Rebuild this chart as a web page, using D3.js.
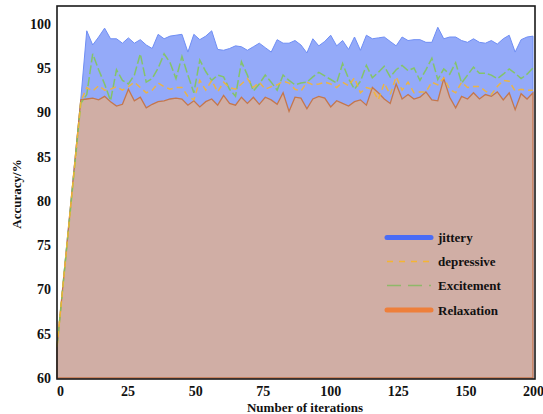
<!DOCTYPE html>
<html><head><meta charset="utf-8">
<script src="https://cdn.jsdelivr.net/npm/d3@7"></script>
<style>body{margin:0;background:#fff}svg{display:block}</style>
</head><body>
<svg id="c" width="543" height="414"></svg>
<script>
const iterations = [0].concat(d3.range(10, 200.1, 2.5));
const jittery = [63.5,91.5,99.2,97.6,98.5,99.5,98.3,98.3,97.8,98.4,97.8,98.2,97.6,97.2,98.8,98.3,98.6,98.7,98.8,96.8,98.8,98.2,98.6,99.2,97.1,97.0,97.2,97.5,97.4,97.0,97.4,97.8,97.3,96.8,98.2,97.8,97.8,98.1,97.6,96.7,98.3,97.5,98.0,98.7,97.5,98.1,97.1,98.5,97.0,98.7,98.3,98.4,98.5,98.0,97.5,98.5,98.1,98.2,98.2,97.9,97.9,99.6,98.3,98.5,98.5,98.1,97.9,98.3,97.9,97.8,98.1,97.7,98.3,98.7,96.8,98.2,98.5,98.6];
const depressive = [63.5,91.2,92.8,92.4,93.0,92.5,92.6,92.9,92.5,92.9,93.4,92.8,92.2,92.5,93.3,92.9,92.6,92.8,92.8,91.8,91.4,93.6,92.5,93.6,92.3,93.4,92.8,92.6,93.2,93.8,92.8,93.4,92.6,92.9,93.1,93.5,93.3,92.6,92.4,93.4,93.1,93.2,93.4,93.2,92.8,93.4,93.0,93.9,92.2,92.8,92.6,91.4,93.3,92.0,94.0,92.5,93.4,92.2,92.3,92.3,93.4,93.1,93.9,92.6,92.2,93.4,92.8,92.9,92.9,92.4,92.0,92.9,93.6,93.5,92.4,92.6,92.5,92.5];
const excitement = [63.5,91.0,92.0,96.6,94.8,93.2,91.3,94.8,93.6,93.2,94.2,96.6,93.4,93.8,95.0,96.6,95.6,93.8,96.3,94.2,92.2,95.9,94.6,93.6,94.2,94.0,92.6,91.8,95.7,94.2,92.4,93.2,94.2,93.4,92.5,94.2,93.6,93.1,93.3,93.4,94.0,94.5,94.1,93.7,93.3,95.5,93.8,92.6,93.5,95.3,93.9,94.5,95.2,94.0,94.8,95.3,94.7,95.0,93.6,94.8,96.1,93.7,94.9,94.3,95.6,93.3,94.2,95.1,94.4,94.4,94.2,93.8,94.3,94.9,94.4,93.8,94.3,95.0];
const relaxation = [63.5,91.4,91.5,91.6,91.4,91.8,91.2,90.7,90.9,92.6,91.3,91.7,90.5,90.9,91.2,91.3,91.5,91.6,91.5,90.8,91.3,90.6,91.2,91.5,90.8,91.9,91.0,90.8,91.7,91.0,91.7,90.9,91.7,91.4,90.9,92.2,90.1,91.7,91.6,90.4,91.5,91.8,91.6,90.6,91.3,91.0,90.7,91.2,91.4,90.8,92.8,92.2,91.5,91.0,93.2,91.5,92.0,91.5,91.7,92.3,91.4,91.3,93.8,91.7,90.5,91.8,91.5,92.2,91.5,92.0,91.8,92.3,91.4,92.2,90.3,92.1,91.5,92.2];
const yTicks = [60,65,70,75,80,85,90,95,100];
const xTickLabels = ["0","25","50","75","100","125","150","200"];
const seriesNames = ["jittery","depressive","Excitement","Relaxation"];

const svg = d3.select("#c");
const L = 57, R = 535, T = 6, B = 379;
const x = d3.scaleLinear().domain([0, 200]).range([L, 533]);
const y = d3.scaleLinear().domain([60, 102]).range([378, T]);
const xLab = d3.scalePoint().domain(xTickLabels).range([60, 533]);
const font = "'Liberation Serif','Times New Roman',serif";

const pts = arr => arr.map((v, i) => [iterations[i], v]);
const area = d3.area().x(d => x(d[0])).y0(y(60)).y1(d => y(d[1]));
const line = d3.line().x(d => x(d[0])).y(d => y(d[1]));

// jittery area
svg.append("path").attr("d", area(pts(jittery)) )
  .attr("fill", "#5a7cf6").attr("fill-opacity", 0.65)
  .attr("stroke", "#6f8ef4").attr("stroke-width", 1);
// relaxation area
svg.append("path").attr("d", area(pts(relaxation)))
  .attr("fill", "#d0aea5")
  .attr("stroke", "#c5774c").attr("stroke-width", 1.3);
// excitement dashed
svg.append("path").attr("d", line(pts(excitement)))
  .attr("fill", "none").attr("stroke", "#82c75a").attr("stroke-width", 1.5)
  .attr("stroke-dasharray", "9,3").attr("opacity", 0.9);
// depressive dashed
svg.append("path").attr("d", line(pts(depressive)))
  .attr("fill", "none").attr("stroke", "#f4b533").attr("stroke-width", 1.5)
  .attr("stroke-dasharray", "6,4").attr("opacity", 0.9);

// frame
svg.append("rect").attr("x", L).attr("y", T).attr("width", R - L).attr("height", B - T)
  .attr("fill", "none").attr("stroke", "#1a1a1a").attr("stroke-width", 1.6);

// y axis
const yAxis = d3.axisLeft(y).tickValues(yTicks).tickSize(0).tickPadding(6);
const gy = svg.append("g").attr("transform", `translate(${L},0)`).call(yAxis);
gy.select(".domain").remove();
gy.selectAll("text").attr("font-family", font).attr("font-size", 14).attr("font-weight", "bold").attr("fill", "#111");

// x axis
const xAxis = d3.axisBottom(xLab).tickSize(0).tickPadding(7);
const gx = svg.append("g").attr("transform", `translate(0,${B})`).call(xAxis);
gx.select(".domain").remove();
gx.selectAll("text").attr("font-family", font).attr("font-size", 14).attr("font-weight", "bold").attr("fill", "#111");

// titles
svg.append("text").attr("x", 305).attr("y", 412).attr("text-anchor", "middle")
  .attr("font-family", font).attr("font-size", 13).attr("font-weight", "bold").attr("fill", "#111")
  .text("Number of iterations");
svg.append("text").attr("transform", "translate(21,194) rotate(-90)").attr("text-anchor", "middle")
  .attr("font-family", font).attr("font-size", 13).attr("font-weight", "bold").attr("fill", "#111")
  .text("Accuracy/%");

// legend
const leg = [
  {name: seriesNames[0], y: 237.5, color: "#4a6cf5", w: 5, dash: null, cap: "round"},
  {name: seriesNames[1], y: 261.5, color: "#f4b533", w: 1.5, dash: "6,6", cap: "butt"},
  {name: seriesNames[2], y: 285.5, color: "#8fb86a", w: 1.5, dash: "14,7", cap: "butt"},
  {name: seriesNames[3], y: 310, color: "#ee7f3b", w: 5, dash: null, cap: "round"}
];
const lg = svg.append("g");
leg.forEach(d => {
  lg.append("line").attr("x1", 387).attr("x2", 431).attr("y1", d.y).attr("y2", d.y)
    .attr("stroke", d.color).attr("stroke-width", d.w).attr("stroke-linecap", d.cap)
    .attr("stroke-dasharray", d.dash);
  lg.append("text").attr("x", 438).attr("y", d.y + 4.5)
    .attr("font-family", font).attr("font-size", 13).attr("font-weight", "bold").attr("fill", "#111")
    .text(d.name);
});
</script>
</body></html>
